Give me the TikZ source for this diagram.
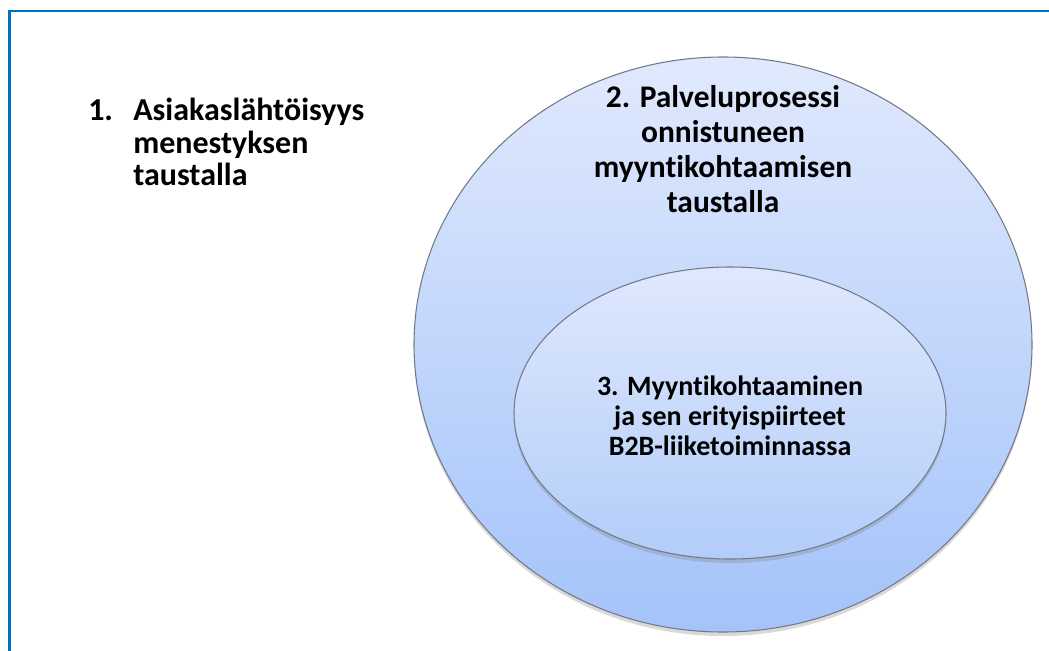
\documentclass[tikz,border=0pt]{standalone}
\usepackage{fontspec}
\setmainfont{Carlito}[Ligatures=NoCommon]
\usetikzlibrary{positioning, shapes.geometric, shadows}

\definecolor{frameblue}{RGB}{0,112,192}
\definecolor{ringtop}{RGB}{224,233,253}
\definecolor{ringbot}{RGB}{164,195,250}
\definecolor{coretop}{RGB}{223,232,253}
\definecolor{corebot}{RGB}{178,205,249}
\definecolor{rimgray}{RGB}{115,122,135}

\tikzset{
  disc/.style={ellipse, draw=rimgray, line width=0.8pt, inner sep=0pt,
    drop shadow={shadow xshift=0pt, shadow yshift=-3pt, opacity=0.3}},
  lbl/.style={inner sep=0pt, font=\bfseries},
}

\begin{document}
\begin{tikzpicture}[x=0.75pt, y=-0.75pt]

    \useasboundingbox (0,0) rectangle (1049,650);

    % ================= Frame =================
    \draw[frameblue, line width=1.9pt] (9.5,11) rectangle (1070,680);

    % ================= Ellipses =================
    % outer: service process
    \node[disc, top color=ringtop, bottom color=ringbot,
          minimum width=463.5pt, minimum height=431.25pt] (outer) at (723,344.5) {};
    % inner: sales encounter
    \node[disc, top color=coretop, bottom color=corebot,
          minimum width=324pt, minimum height=219pt] (inner) at (730,413) {};

    % ================= Labels =================
    \node[lbl, anchor=north west] (lbl1) at (88,98)
        {\fontsize{24}{24.3}\selectfont
         \begin{tabular}{@{}p{33.75pt}@{}l@{}}
         1. & Asiakaslähtöisyys\\
            & menestyksen\\
            & taustalla
         \end{tabular}};

    \node[lbl, anchor=north] (lbl2) at (723,82.5)
        {\fontsize{23.6}{26.25}\selectfont
         \begin{tabular}{@{}c@{}}
         2. Palveluprosessi\\ onnistuneen\\ myyntikohtaamisen\\ taustalla
         \end{tabular}};

    \node[lbl, anchor=north] (lbl3) at (730,374)
        {\fontsize{21}{22.5}\selectfont
         \begin{tabular}{@{}c@{}}
         3. Myyntikohtaaminen\\ ja sen erityispiirteet\\ B2B-liiketoiminnassa
         \end{tabular}};

\end{tikzpicture}
\end{document}
